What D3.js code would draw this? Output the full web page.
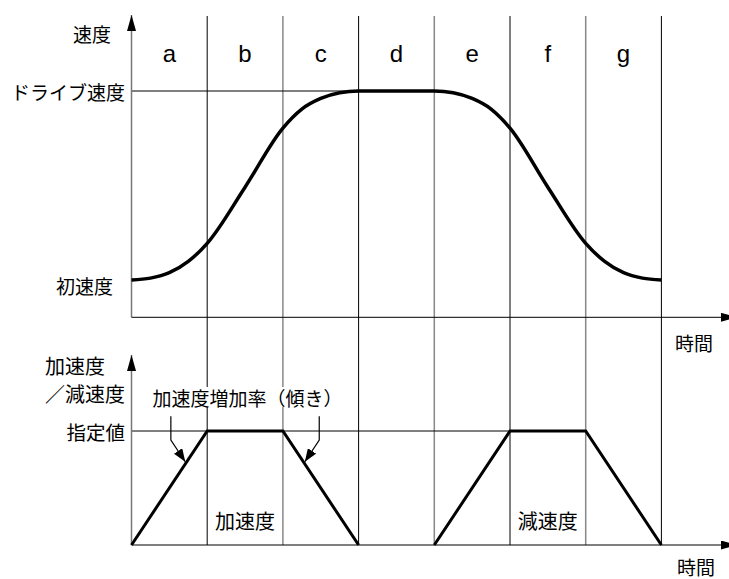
<!DOCTYPE html>
<head>
    <meta charset="utf-8">
    <script src="https://d3js.org/d3.v7.min.js"></script>
    <style>
        body { margin: 0; background: #fff; }
        text { font-family: "Noto Sans CJK JP", sans-serif; fill: #000; }
    </style>
</head>

<body>
    <div id="chart"></div>
</body>

<script>

    const width = 729,
        height = 579;

    // phase labels (columns between vertical lines)
    const phases = ["a", "b", "c", "d", "e", "f", "g"];

    // speed profile (time in phase units, speed in % of drive speed)
    const speedTime  = [0, 0.25, 0.5, 0.75, 1, 1.5, 2, 2.25, 2.5, 2.75, 3,
                        4, 4.25, 4.5, 4.75, 5, 5.5, 6, 6.25, 6.5, 6.75, 7];
    const speedValue = [16.5, 17.3, 19.7, 24.7, 32.7, 57.5, 83.6, 92.0, 96.7, 99.2, 100,
                        100, 99.2, 96.7, 92.0, 83.6, 57.5, 32.7, 24.7, 19.7, 17.3, 16.5];

    // acceleration / deceleration (1 = 指定値)
    const accTime  = [0, 1, 2, 3];
    const accValue = [0, 1, 1, 0];
    const decTime  = [4, 5, 6, 7];
    const decValue = [0, 1, 1, 0];

    const driveSpeed = 100, setValue = 1;

    const x = d3.scaleLinear().domain([0, 7]).range([131.5, 661.4]);
    const yS = d3.scaleLinear().domain([0, 100]).range([317.3, 91]);
    const yA = d3.scaleLinear().domain([0, 1]).range([545, 431]);

    const svg = d3.select("#chart").append("svg")
        .attr("width", width)
        .attr("height", height);

    const defs = svg.append("defs");
    defs.append("marker").attr("id", "head")
        .attr("viewBox", "0 0 16 9").attr("refX", 16).attr("refY", 4.5)
        .attr("markerWidth", 16).attr("markerHeight", 9)
        .attr("markerUnits", "userSpaceOnUse").attr("orient", "auto")
        .append("path").attr("d", "M0,0L16,4.5L0,9Z").attr("fill", "#000");
    defs.append("marker").attr("id", "small")
        .attr("viewBox", "0 0 13 10").attr("refX", 13).attr("refY", 5)
        .attr("markerWidth", 13).attr("markerHeight", 10)
        .attr("markerUnits", "userSpaceOnUse").attr("orient", "auto")
        .append("path").attr("d", "M0,0L13,5L0,10Z").attr("fill", "#000");

    // vertical phase boundaries
    svg.selectAll("line.vline").data(d3.range(1, 8))
        .enter().append("line").attr("class", "vline")
        .attr("x1", d => x(d)).attr("x2", d => x(d))
        .attr("y1", 16).attr("y2", yA(0))
        .attr("stroke", d => d % 2 ? "#000" : "#888")
        .attr("stroke-width", d => d % 2 ? 1 : 1.5);

    // reference lines
    svg.append("line")
        .attr("x1", x(0)).attr("x2", x(3))
        .attr("y1", yS(driveSpeed)).attr("y2", yS(driveSpeed))
        .attr("stroke", "#000");
    svg.append("line")
        .attr("x1", x(0)).attr("x2", x(5))
        .attr("y1", yA(setValue)).attr("y2", yA(setValue))
        .attr("stroke", "#000");

    // axes
    svg.append("line")
        .attr("x1", x(0)).attr("x2", x(0)).attr("y1", yS(0)).attr("y2", 15)
        .attr("stroke", "#777").attr("stroke-width", 1.5).attr("marker-end", "url(#head)");
    svg.append("line")
        .attr("x1", x(0)).attr("x2", 737).attr("y1", yS(0)).attr("y2", yS(0))
        .attr("stroke", "#000").attr("marker-end", "url(#head)");
    svg.append("line")
        .attr("x1", x(0)).attr("x2", x(0)).attr("y1", yA(0)).attr("y2", 355)
        .attr("stroke", "#777").attr("stroke-width", 1.5).attr("marker-end", "url(#head)");
    svg.append("line")
        .attr("x1", x(0)).attr("x2", 737).attr("y1", yA(0)).attr("y2", yA(0))
        .attr("stroke", "#000").attr("marker-end", "url(#head)");

    // speed curve
    const speedLine = d3.line()
        .x(d => x(d[0])).y(d => yS(d[1]))
        .curve(d3.curveMonotoneX);
    svg.append("path")
        .datum(d3.zip(speedTime, speedValue))
        .attr("d", speedLine)
        .attr("fill", "none").attr("stroke", "#000").attr("stroke-width", 3.5);

    // acceleration trapezoids
    const accLine = d3.line().x(d => x(d[0])).y(d => yA(d[1]));
    [d3.zip(accTime, accValue), d3.zip(decTime, decValue)].forEach(s => {
        svg.append("path").datum(s).attr("d", accLine)
            .attr("fill", "none").attr("stroke", "#000")
            .attr("stroke-width", 3).attr("stroke-linejoin", "miter");
    });

    // phase letters
    svg.selectAll("text.phase").data(phases)
        .enter().append("text").attr("class", "phase")
        .attr("x", (d, i) => x(i + 0.5)).attr("y", 62)
        .attr("text-anchor", "middle")
        .style("font-family", "'Liberation Sans', Arial, sans-serif")
        .style("font-size", "24px")
        .text(d => d);

    function label(txt, px, py, anchor, size) {
        svg.append("text")
            .attr("x", px).attr("y", py)
            .attr("text-anchor", anchor || "start")
            .attr("dominant-baseline", "central")
            .style("font-size", (size || 19) + "px")
            .text(txt);
    }

    label("速度", 111, 33, "end");
    label("ドライブ速度", 125, yS(driveSpeed), "end");
    label("初速度", 113, 285, "end");
    label("時間", 694, 342, "middle");

    label("加速度", 45, 365, "start", 20);
    label("／減速度", 45, 393, "start", 20);
    label("指定値", 125, yA(setValue), "end", 19.5);
    label("時間", 696, 566, "middle");

    // slope annotation
    svg.append("rect")
        .attr("x", 150).attr("y", 387).attr("width", 196).attr("height", 20)
        .attr("fill", "#fff");
    label("加速度増加率（傾き）", 247.5, 397, "middle");

    // callout arrows (time, level) pointing at the slopes
    const callouts = [
        [[0.52, 1.13], [0.52, 0.92], [0.71, 0.73]],
        [[2.48, 1.13], [2.48, 0.92], [2.29, 0.73]]
    ];
    const callLine = d3.line().x(d => x(d[0])).y(d => yA(d[1]));
    callouts.forEach(c => {
        svg.append("path").datum(c).attr("d", callLine)
            .attr("fill", "none").attr("stroke", "#000").attr("stroke-width", 1.2)
            .attr("marker-end", "url(#small)");
    });

    label("加速度", x(1.5), 520, "middle", 20);
    label("減速度", x(5.5), 520, "middle", 20);

</script>
